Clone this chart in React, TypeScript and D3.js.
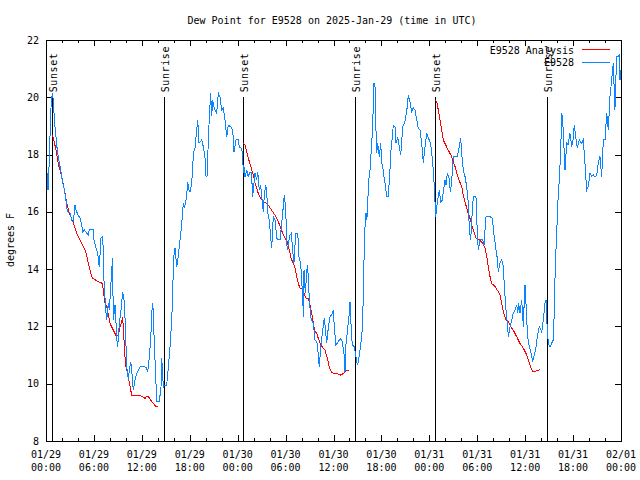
import React from 'react';
import * as d3 from 'd3';

// hours after 2025-01-29 00:00 UTC
const START = Date.UTC(2025, 0, 29);
const END = Date.UTC(2025, 1, 1);

const sunsetHours = [0.71, 24.71, 48.71];
const sunriseHours = [14.78, 38.7, 62.73];

const yTicks = [8, 10, 12, 14, 16, 18, 20, 22];

// station observations [hour, dew point F]
const stationDay29: [number, number][] = [
  [0.0, 17.11], [0.16, 17.36], [0.25, 16.76], [0.38, 17.58], [0.5, 18.62], [0.63, 19.67], [0.79, 20.14], [0.91, 19.9],
  [1.0, 19.45], [1.13, 18.97], [1.25, 18.62], [1.41, 18.16], [1.67, 17.71], [1.84, 17.46], [1.97, 17.23], [2.09, 17.01],
  [2.25, 16.83], [2.5, 16.41], [2.67, 16.0], [3.01, 15.96], [3.29, 15.66], [3.44, 15.68], [3.63, 16.24], [3.76, 16.06],
  [4.01, 15.89], [4.26, 15.78], [4.47, 15.54], [4.6, 15.31], [4.82, 15.37], [5.07, 15.26], [5.3, 15.19], [5.42, 15.37],
  [5.72, 15.4], [5.92, 15.4], [6.01, 15.02], [6.26, 14.74], [6.45, 14.6], [6.55, 14.39], [6.67, 14.08], [6.89, 15.09],
  [7.05, 15.12], [7.18, 14.74], [7.26, 13.62], [7.33, 13.27], [7.48, 12.57], [7.6, 12.22], [7.8, 12.82], [7.93, 12.57],
  [8.08, 13.27], [8.33, 14.39], [8.43, 12.22], [8.64, 12.75], [8.93, 11.29], [9.05, 11.53], [9.18, 12.11], [9.39, 12.57],
  [9.6, 13.2], [9.77, 12.92], [9.89, 12.34], [10.11, 10.59], [10.31, 10.13], [10.43, 10.48], [10.61, 10.77], [10.73, 10.48],
  [10.93, 9.78], [11.14, 10.13], [11.36, 10.36], [11.77, 10.58], [12.18, 10.62], [12.52, 10.57], [12.73, 10.42], [12.94, 10.94],
  [13.11, 11.53], [13.27, 12.57], [13.36, 12.81], [13.44, 12.46], [13.56, 11.41], [13.74, 10.24], [13.86, 9.37], [14.19, 9.37],
  [14.4, 9.89], [14.49, 10.89], [14.59, 10.48], [14.69, 9.84], [14.81, 9.95], [15.11, 9.95], [15.31, 10.54], [15.53, 11.29],
  [15.74, 12.22], [15.87, 13.21], [15.94, 14.08], [16.03, 14.49], [16.15, 14.74], [16.37, 14.08], [16.47, 14.25], [16.57, 14.49],
  [16.78, 15.02], [16.99, 15.54], [17.19, 16.31], [17.32, 16.13], [17.49, 16.35], [17.62, 16.59], [17.74, 17.05], [17.94, 16.7],
  [18.09, 16.73], [18.24, 17.05], [18.37, 17.46], [18.44, 18.05], [18.66, 18.23], [18.87, 18.86], [19.0, 19.21], [19.16, 18.4],
  [19.28, 18.44], [19.5, 18.51], [19.7, 18.27], [19.91, 17.88], [20.04, 17.23], [20.16, 17.23], [20.25, 17.93], [20.45, 19.32],
  [20.62, 20.14], [20.75, 19.35], [20.87, 19.9], [21.04, 19.66], [21.16, 19.56], [21.37, 19.45], [21.58, 20.14], [21.79, 20.01],
  [22.0, 19.56], [22.2, 19.63], [22.41, 19.21], [22.63, 18.62], [22.83, 19.03], [23.13, 18.97], [23.38, 18.86], [23.54, 18.1],
  [23.79, 18.51],
];

const stationDay30: [number, number][] = [
  [24.08, 18.51], [24.2, 18.27], [24.51, 18.22], [24.63, 17.93], [24.71, 17.36], [24.79, 17.58], [24.92, 17.23], [25.13, 17.46],
  [25.33, 17.23], [25.54, 17.4], [25.73, 17.36], [25.88, 16.53], [26.05, 17.01], [26.17, 17.36], [26.38, 17.11], [26.51, 17.4],
  [26.71, 16.76], [26.88, 16.94], [27.09, 16.31], [27.21, 16.0], [27.34, 16.59], [27.51, 16.94], [27.64, 16.69], [27.76, 15.96],
  [27.96, 15.72], [28.14, 15.09], [28.26, 14.74], [28.39, 15.44], [28.46, 15.82], [28.68, 15.72], [28.89, 15.09], [29.01, 15.02],
  [29.3, 15.02], [29.64, 15.96], [29.84, 16.59], [30.02, 16.06], [30.14, 14.96], [30.22, 14.67], [30.55, 15.19], [30.74, 15.26],
  [30.84, 14.78], [31.05, 14.21], [31.27, 15.26], [31.52, 15.26], [31.68, 14.43], [31.89, 14.21], [32.14, 12.99], [32.24, 12.33],
  [32.31, 13.97], [32.47, 13.17], [32.72, 14.14], [32.85, 13.74], [32.97, 12.92], [33.15, 12.34], [33.27, 12.22], [33.47, 12.12],
  [33.68, 11.53], [33.97, 11.42], [34.22, 10.59], [34.4, 11.25], [34.65, 11.87], [34.85, 12.29], [35.0, 11.87], [35.15, 11.42],
  [35.27, 11.77], [35.44, 12.12], [35.56, 12.34], [35.78, 12.4], [35.98, 12.57], [36.1, 11.99], [36.31, 11.35], [36.6, 11.47],
  [36.9, 11.58], [37.1, 11.46], [37.31, 11.07], [37.44, 10.42], [37.53, 11.29], [37.65, 11.58], [37.85, 12.12], [37.98, 12.47],
  [38.07, 12.86], [38.28, 11.53], [38.48, 11.29], [38.61, 11.29], [38.82, 10.94], [38.98, 10.65], [39.11, 10.77], [39.32, 11.18],
  [39.53, 11.64], [39.66, 12.22], [39.73, 13.17], [39.82, 14.32], [39.94, 15.44], [40.07, 15.96], [40.16, 15.72], [40.28, 16.06],
  [40.36, 17.01], [40.57, 17.46], [40.67, 17.93], [40.78, 18.33], [40.91, 19.1], [41.07, 20.49], [41.2, 20.36], [41.28, 19.21],
  [41.41, 18.05], [41.53, 18.4], [41.74, 17.93], [41.91, 18.4], [42.04, 17.71], [42.24, 17.46], [42.36, 17.11], [42.45, 17.01],
  [42.66, 16.53], [42.86, 16.53], [43.07, 17.46], [43.16, 18.05], [43.29, 18.4], [43.49, 19.03], [43.7, 18.96], [43.83, 18.4],
  [44.04, 18.61], [44.24, 18.27], [44.42, 17.98], [44.67, 18.97], [44.95, 19.15], [45.24, 19.67], [45.37, 20.08], [45.58, 19.84],
  [45.79, 19.5], [45.99, 19.63], [46.21, 19.56], [46.42, 19.21], [46.62, 18.92], [46.83, 18.86], [47.04, 18.4], [47.25, 17.71],
  [47.46, 18.27], [47.67, 18.74], [47.87, 18.58],
];

const stationDay31: [number, number][] = [
  [48.17, 18.39], [48.42, 17.71], [48.5, 17.46], [48.62, 16.88], [48.8, 15.83], [49.0, 16.35], [49.12, 16.53], [49.25, 16.76],
  [49.42, 16.35], [49.62, 16.41], [49.84, 16.88], [49.96, 17.11], [50.09, 16.94], [50.25, 17.36], [50.46, 17.18], [50.65, 16.69],
  [50.88, 17.36], [51.0, 17.93], [51.22, 17.93], [51.5, 17.93], [51.75, 18.27], [51.93, 18.57], [52.05, 18.05], [52.25, 17.46],
  [52.47, 17.23], [52.68, 16.88], [52.88, 16.31], [53.01, 15.37], [53.18, 15.02], [53.31, 15.72], [53.51, 16.53], [53.84, 16.53],
  [54.01, 15.25], [54.13, 14.67], [54.34, 15.02], [54.68, 15.02], [54.85, 14.84], [54.97, 15.37], [55.1, 15.83], [55.6, 15.83],
  [55.89, 15.77], [56.1, 15.19], [56.35, 14.67], [56.51, 14.38], [56.64, 13.91], [56.85, 14.21], [57.06, 14.32], [57.23, 14.14],
  [57.35, 13.62], [57.48, 13.04], [57.6, 12.57], [57.77, 12.12], [57.89, 11.64], [58.1, 11.99], [58.32, 12.22], [58.51, 12.47],
  [58.73, 12.57], [58.94, 12.75], [59.07, 12.47], [59.17, 12.82], [59.35, 12.47], [59.57, 12.92], [59.77, 11.99], [59.89, 12.92],
  [59.98, 13.45], [60.1, 12.82], [60.19, 12.22], [60.32, 11.64], [60.52, 11.29], [60.73, 11.07], [60.94, 10.77], [61.14, 11.0],
  [61.36, 11.29], [61.52, 11.64], [61.77, 11.99], [62.07, 11.81], [62.27, 12.22], [62.48, 12.82], [62.61, 12.92], [62.77, 11.87],
  [62.9, 11.41], [63.11, 11.29], [63.32, 11.41], [63.52, 11.53], [63.65, 12.57], [63.74, 13.74], [63.86, 14.67], [64.03, 15.83],
  [64.15, 16.66], [64.28, 17.11], [64.45, 18.16], [64.58, 19.45], [64.7, 19.21], [64.86, 18.27], [64.99, 17.46], [65.2, 18.4],
  [65.36, 18.33], [65.61, 18.74], [65.83, 18.27], [65.99, 18.51], [66.15, 19.03], [66.33, 18.62], [66.53, 18.22], [66.78, 18.51],
  [67.08, 18.39], [67.28, 18.51], [67.49, 17.69], [67.7, 16.76], [67.91, 16.88], [68.12, 17.36], [68.33, 17.23], [68.53, 17.29],
  [68.74, 17.22], [68.96, 17.29], [69.16, 17.71], [69.37, 17.93], [69.58, 17.23], [69.79, 18.51], [70.0, 18.51], [70.21, 19.45],
  [70.41, 18.86], [70.62, 20.02], [70.83, 20.6], [71.03, 21.19], [71.24, 19.56], [71.45, 21.42], [71.66, 21.42], [71.79, 21.48],
  [71.87, 20.6], [72.0, 20.95],
];

// analysis [hour, dew point F], one run per night
const analysisNight29: [number, number][] = [
  [0.75, 18.68], [0.91, 18.6], [1.25, 18.16], [1.57, 17.64], [1.97, 17.23], [2.38, 16.66], [2.59, 16.31], [2.88, 16.0],
  [3.42, 15.61], [3.84, 15.26], [4.47, 14.91], [4.97, 14.61], [5.3, 14.21], [5.6, 13.86], [5.8, 13.69], [6.55, 13.56],
  [7.1, 13.5], [7.18, 13.21], [7.39, 12.81], [7.6, 12.69], [8.01, 12.11], [8.43, 11.87], [8.85, 11.64], [9.08, 11.73],
  [9.27, 11.99], [9.48, 12.16], [9.6, 12.34], [9.89, 10.94], [10.02, 10.59], [10.31, 10.24], [10.73, 9.6], [11.98, 9.57],
  [12.4, 9.49], [12.65, 9.57], [12.81, 9.55], [13.11, 9.43], [13.44, 9.31], [13.77, 9.2], [13.94, 9.22],
];

const analysisNight30: [number, number][] = [
  [24.71, 18.39], [24.92, 18.33], [25.13, 18.1], [25.33, 17.87], [25.54, 17.69], [25.76, 17.46], [25.96, 17.29], [26.17, 17.0],
  [26.38, 16.82], [26.58, 16.65], [26.88, 16.47], [27.21, 16.35], [27.64, 16.3], [27.96, 16.18], [28.26, 16.06], [28.46, 15.97],
  [28.8, 15.83], [29.09, 15.66], [29.39, 15.43], [29.64, 15.25], [29.93, 15.08], [30.22, 14.96], [30.47, 14.67], [30.68, 14.38],
  [30.97, 14.2], [31.18, 14.03], [31.39, 13.74], [31.59, 13.5], [31.81, 13.33], [32.02, 13.33], [32.31, 13.16], [32.56, 12.98],
  [32.85, 12.98], [33.06, 12.75], [33.27, 12.46], [33.47, 12.11], [33.68, 11.82], [33.9, 11.76], [34.1, 11.58], [34.4, 11.35],
  [34.72, 11.24], [34.94, 11.18], [35.22, 10.89], [35.47, 10.59], [35.78, 10.38], [36.19, 10.36], [36.6, 10.34], [36.9, 10.3],
  [37.23, 10.36], [37.57, 10.44], [37.98, 10.48],
];

const analysisNight31: [number, number][] = [
  [48.71, 19.9], [48.92, 19.85], [49.12, 19.56], [49.34, 19.21], [49.55, 18.86], [49.75, 18.51], [49.96, 18.39], [50.25, 18.22],
  [50.59, 18.04], [50.8, 17.93], [51.0, 17.75], [51.22, 17.58], [51.43, 17.35], [51.63, 17.17], [52.05, 16.88], [52.25, 16.59],
  [52.47, 16.35], [52.75, 16.06], [53.09, 15.77], [53.31, 15.54], [53.59, 15.31], [53.84, 15.08], [54.26, 15.02], [54.68, 14.9],
  [54.97, 14.73], [55.19, 14.43], [55.39, 14.08], [55.6, 13.74], [55.81, 13.5], [56.23, 13.39], [56.64, 13.21], [56.85, 13.1],
  [57.06, 12.81], [57.26, 12.51], [57.48, 12.34], [57.6, 12.22], [57.89, 12.16], [58.19, 11.99], [58.51, 11.87], [58.94, 11.64],
  [59.35, 11.41], [59.77, 11.24], [60.1, 11.06], [60.39, 10.83], [60.69, 10.59], [60.94, 10.42], [61.23, 10.44], [61.52, 10.45],
  [61.86, 10.5],
];

const FONT = '"DejaVu Sans Mono", "Liberation Mono", monospace';
const RED = '#ff0000';
const BLUE = '#0a84ff';

export default function App() {
  const left = 46, right = 621, top = 40, bottom = 441;
  const at = (h: number) => new Date(START + h * 3600e3);
  const x = d3.scaleUtc().domain([new Date(START), new Date(END)]).range([left, right]);
  const y = d3.scaleLinear().domain([8, 22]).range([bottom, top]);
  const line = d3
    .line<[number, number]>()
    .x((d) => x(at(d[0])))
    .y((d) => y(d[1]));

  const majors = x.ticks(d3.utcHour.every(6)!);
  const minors = x.ticks(d3.utcHour.every(2)!);
  const fmtDay = d3.utcFormat('%m/%d');
  const fmtTime = d3.utcFormat('%H:%M');
  const px = (v: number) => Math.round(v) + 0.5;

  const station = [...stationDay29, ...stationDay30, ...stationDay31];
  const nights = [analysisNight29, analysisNight30, analysisNight31];
  const sunEvents = [
    ...sunsetHours.map((h) => ({ h, label: 'Sunset' })),
    ...sunriseHours.map((h) => ({ h, label: 'Sunrise' })),
  ];

  return (
    <svg
      width={640}
      height={480}
      style={{ position: 'absolute', left: 0, top: 0, background: '#fff' }}
      fontFamily={FONT}
      fontSize={10}
    >
      <rect width={640} height={480} fill="#fff" />
      <text x={332} y={24} textAnchor="middle">
        Dew Point for E9528 on 2025-Jan-29 (time in UTC)
      </text>
      <text transform="translate(14,240) rotate(-90)" textAnchor="middle">
        degrees F
      </text>

      {/* sunrise / sunset markers */}
      {sunEvents.map((s, i) => {
        const sx = px(x(at(s.h)));
        return (
          <g key={'sun' + i}>
            <line x1={sx} x2={sx} y1={y(8)} y2={y(20)} stroke="#000" shapeRendering="crispEdges" />
            <text transform={`translate(${sx + 4.5},${y(20) - 5}) rotate(-90)`} letterSpacing={0.6}>
              {s.label}
            </text>
          </g>
        );
      })}

      {/* ticks */}
      {minors.map((t, i) => (
        <g key={'mn' + i} stroke="#000" shapeRendering="crispEdges">
          <line x1={px(x(t))} x2={px(x(t))} y1={bottom} y2={bottom - 3} />
          <line x1={px(x(t))} x2={px(x(t))} y1={top} y2={top + 3} />
        </g>
      ))}
      {majors.map((t, i) => (
        <g key={'mj' + i}>
          <line x1={px(x(t))} x2={px(x(t))} y1={bottom} y2={bottom - 6} stroke="#000" shapeRendering="crispEdges" />
          <line x1={px(x(t))} x2={px(x(t))} y1={top} y2={top + 6} stroke="#000" shapeRendering="crispEdges" />
          <text x={x(t)} y={458} textAnchor="middle">{fmtDay(t)}</text>
          <text x={x(t)} y={471} textAnchor="middle">{fmtTime(t)}</text>
        </g>
      ))}
      {yTicks.map((v) => (
        <g key={'y' + v}>
          <line x1={left} x2={left + 6} y1={px(y(v))} y2={px(y(v))} stroke="#000" shapeRendering="crispEdges" />
          <line x1={right} x2={right - 6} y1={px(y(v))} y2={px(y(v))} stroke="#000" shapeRendering="crispEdges" />
          <text x={39} y={y(v) + 3.5} textAnchor="end">{v}</text>
        </g>
      ))}

      {/* data */}
      {nights.map((n, i) => (
        <path key={'an' + i} d={line(n) || ''} fill="none" stroke={RED} strokeWidth={1} shapeRendering="crispEdges" />
      ))}
      <path d={line(station) || ''} fill="none" stroke={BLUE} strokeWidth={1} shapeRendering="crispEdges" />

      {/* legend */}
      <text x={574} y={54} textAnchor="end">E9528 Analysis</text>
      <line x1={582} x2={610} y1={49.5} y2={49.5} stroke={RED} shapeRendering="crispEdges" />
      <text x={574} y={66} textAnchor="end">E9528</text>
      <line x1={582} x2={610} y1={62.5} y2={62.5} stroke={BLUE} shapeRendering="crispEdges" />

      <rect
        x={left + 0.5}
        y={top + 0.5}
        width={right - left}
        height={bottom - top}
        fill="none"
        stroke="#000"
        shapeRendering="crispEdges"
      />
    </svg>
  );
}
